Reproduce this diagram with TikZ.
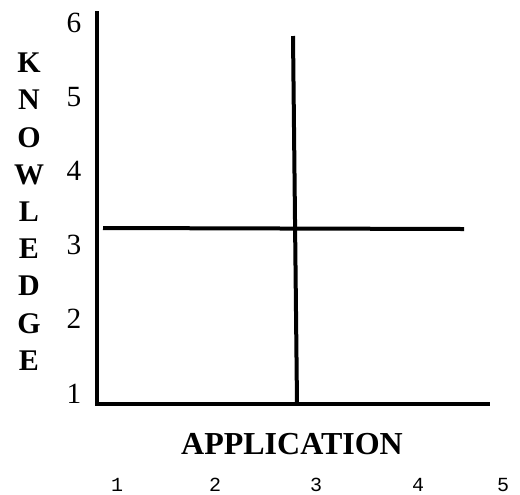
\documentclass[tikz,border=0pt]{standalone}
\usepackage{fontspec}
\setmainfont{Liberation Serif}
\newfontfamily\monofnt{Liberation Mono}
\begin{document}
\begin{tikzpicture}[x=0.75pt,y=-0.75pt,
  axisline/.style={line width=3pt, line cap=rect},
  gridline/.style={line width=3pt},
  ylab/.style={anchor=base, font=\fontsize{22}{24}\selectfont},
  klab/.style={anchor=base, font=\bfseries\fontsize{22.5}{24}\selectfont},
  xlab/.style={anchor=base, font=\monofnt\fontsize{15}{16}\selectfont},
  title/.style={anchor=base, font=\bfseries\fontsize{24}{26}\selectfont}]
\useasboundingbox (0,0) rectangle (520,494);
% axes
\coordinate (ytop) at (97,13);
\coordinate (origin) at (97,404);
\coordinate (xend) at (488,404);
\draw[axisline] (ytop) -- (origin) -- (xend);
% cross lines
\coordinate (vtop) at (293,36);
\coordinate (vbot) at (297,404);
\coordinate (hleft) at (103,228);
\coordinate (hright) at (464,229);
\draw[gridline] (vtop) -- (vbot);
\draw[gridline] (hleft) -- (hright);
% y numbers
\node[ylab] (y6) at (74,32) {6};
\node[ylab] (y5) at (74,106) {5};
\node[ylab] (y4) at (74,180) {4};
\node[ylab] (y3) at (74,254) {3};
\node[ylab] (y2) at (74,328) {2};
\node[ylab] (y1) at (74,403) {1};
% KNOWLEDGE
\node[klab] (k1) at (29,72) {K};
\node[klab] (k2) at (29,109) {N};
\node[klab] (k3) at (29,147) {O};
\node[klab] (k4) at (29,184) {W};
\node[klab] (k5) at (29,221) {L};
\node[klab] (k6) at (29,258) {E};
\node[klab] (k7) at (29,295) {D};
\node[klab] (k8) at (29,333) {G};
\node[klab] (k9) at (29,370) {E};
% APPLICATION
\node[title] (app) at (292,454) {APPLICATION};
% x numbers
\node[xlab] (x1) at (117,491) {1};
\node[xlab] (x2) at (215,491) {2};
\node[xlab] (x3) at (316,491) {3};
\node[xlab] (x4) at (418,491) {4};
\node[xlab] (x5) at (503,491) {5};
\end{tikzpicture}
\end{document}
